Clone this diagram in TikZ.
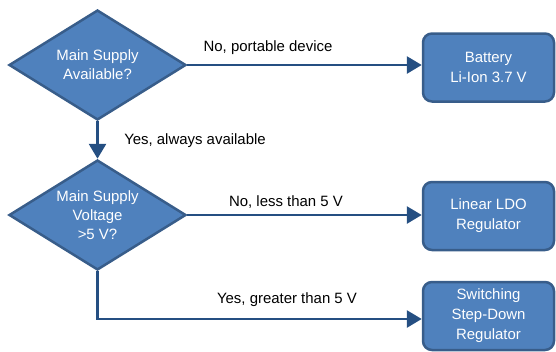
\documentclass[tikz,border=0pt]{standalone}
\usepackage{fontspec}
\setmainfont{Liberation Sans}
\usetikzlibrary{shapes.geometric,arrows.meta}
\definecolor{fillblue}{HTML}{4F81BD}
\definecolor{edgeblue}{HTML}{385D8A}
\definecolor{lineblue}{HTML}{254F82}
\tikzset{
  decision/.style={diamond, draw=edgeblue, fill=fillblue, line width=2.5bp,
    minimum width=177bp, minimum height=110bp, inner sep=0pt},
  intext/.style={text=white, align=center, font=\fontsize{15}{19}\selectfont},
  block/.style={draw=edgeblue, fill=fillblue, line width=2.5bp, rounded corners=9bp, text=white,
    minimum width=131bp, minimum height=68bp, inner sep=0pt, align=center, font=\fontsize{15}{20}\selectfont},
  conn/.style={draw=lineblue, line width=2.8bp, -{Triangle[length=15bp,width=17bp]}},
  lbl/.style={font=\fontsize{15}{18}\selectfont, text=black}
}
\begin{document}
\begin{tikzpicture}[x=1bp,y=-1bp]
\useasboundingbox (0,0) rectangle (556,351);
\node[decision, label={[intext]center:Main Supply\\ Available?}] (d1) at (97.5,65) {};
\node[decision, label={[intext]center:Main Supply\\Voltage\\ >5 V?}] (d2) at (97.5,215) {};
\node[block] (b1) at (488.5,67.5) {Battery\\Li-Ion 3.7 V};
\node[block] (b2) at (488.5,216) {Linear LDO\\Regulator};
\node[block] (b3) at (488.5,316) {Switching\\Step-Down\\Regulator};
\coordinate (c3) at (97.5,319);
\draw[conn] (d1.east) -- (d1.east -| b1.west);
\draw[conn] (d1.south) -- (d2.north);
\draw[conn] (d2.east) -- (d2.east -| b2.west);
\draw[conn] (d2.south) -- (c3) -- (c3 -| b3.west);
\node[lbl] (l1) at (268,48) {No, portable device};
\node[lbl] (l2) at (195,141) {Yes, always available};
\node[lbl] (l3) at (286,202) {No, less than 5 V};
\node[lbl] (l4) at (287,300) {Yes, greater than 5 V};
\end{tikzpicture}
\end{document}
